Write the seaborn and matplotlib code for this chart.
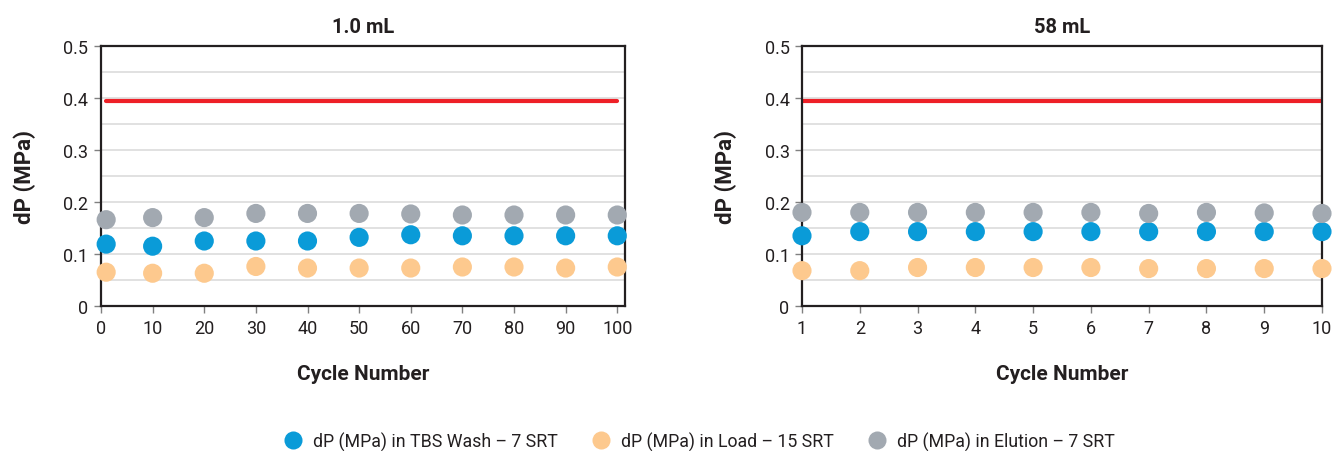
import numpy as np
import pandas as pd
import matplotlib
matplotlib.use("Agg")
import matplotlib.pyplot as plt
import seaborn as sns
from matplotlib.lines import Line2D

sns.set_theme(style="white")
plt.rcParams['font.family'] = ['Roboto', 'DejaVu Sans']

# ---- data ----
titles = ["1.0 mL", "58 mL"]
cycles_a = [1, 10, 20, 30, 40, 50, 60, 70, 80, 90, 100]
wash_a = [0.119, 0.115, 0.125, 0.125, 0.125, 0.132, 0.137, 0.135, 0.135, 0.135, 0.135]
load_a = [0.065, 0.063, 0.063, 0.076, 0.073, 0.073, 0.073, 0.075, 0.075, 0.073, 0.075]
elut_a = [0.166, 0.170, 0.170, 0.178, 0.178, 0.178, 0.177, 0.175, 0.175, 0.175, 0.175]

cycles_b = [1, 2, 3, 4, 5, 6, 7, 8, 9, 10]
wash_b = [0.135, 0.143, 0.143, 0.143, 0.143, 0.143, 0.143, 0.143, 0.143, 0.143]
load_b = [0.068, 0.068, 0.074, 0.074, 0.074, 0.074, 0.072, 0.072, 0.072, 0.072]
elut_b = [0.180, 0.180, 0.180, 0.180, 0.180, 0.180, 0.178, 0.180, 0.179, 0.178]

limit = 0.395
series = ["dP (MPa) in TBS Wash \u2013 7 SRT",
          "dP (MPa) in Load \u2013 15 SRT",
          "dP (MPa) in Elution \u2013 7 SRT"]
colors = ["#0a9bd8", "#fdc98e", "#a2a9b1"]
xticks_a = [0, 10, 20, 30, 40, 50, 60, 70, 80, 90, 100]
xticks_b = [1, 2, 3, 4, 5, 6, 7, 8, 9, 10]
yticks = [0, 0.1, 0.2, 0.3, 0.4, 0.5]
ytick_labels = ["0", "0.1", "0.2", "0.3", "0.4", "0.5"]


def long_df(cycles, wash, load, elut):
    frames = []
    for name, vals in zip(series, [wash, load, elut]):
        frames.append(pd.DataFrame({"cycle": cycles, "dp": vals, "series": name}))
    return pd.concat(frames, ignore_index=True)


fig = plt.figure(figsize=(13.36, 4.52), dpi=100)
ax1 = fig.add_axes([101 / 1336, 1 - 307 / 452, 524 / 1336, 260 / 452])
ax2 = fig.add_axes([802 / 1336, 1 - 307 / 452, 520 / 1336, 260 / 452])

panels = [
    (ax1, long_df(cycles_a, wash_a, load_a, elut_a), cycles_a, xticks_a, (0, 101.5), titles[0]),
    (ax2, long_df(cycles_b, wash_b, load_b, elut_b), cycles_b, xticks_b, (1, 10), titles[1]),
]

for ax, df, cyc, xt, xl, title in panels:
    for y in np.arange(0.05, 0.5, 0.05):
        ax.axhline(y, color="#dcdcdc", lw=1.2, zorder=0)
    ax.plot([cyc[0], cyc[-1]], [limit, limit], color="#ee2027", lw=3, zorder=2)
    sns.scatterplot(data=df, x="cycle", y="dp", hue="series", palette=colors,
                    hue_order=series, s=190, edgecolor="none", legend=False,
                    ax=ax, zorder=3, clip_on=False)
    ax.set_xlim(*xl)
    ax.set_ylim(0, 0.5)
    ax.set_xticks(xt)
    ax.set_xticklabels([str(v) for v in xt])
    ax.set_yticks(yticks)
    ax.set_yticklabels(ytick_labels)
    ax.tick_params(axis="both", which="both", direction="out", length=5, width=1,
                   color="#808080", labelsize=13, labelcolor="#231f20", pad=4,
                   left=True, bottom=True)
    for sp in ax.spines.values():
        sp.set_visible(True)
        sp.set_color("#231f20")
        sp.set_linewidth(1.6)
    ax.set_title(title, fontsize=14.5, fontweight="bold", color="#231f20", pad=10)
    ax.set_xlabel("Cycle Number", fontsize=15, fontweight="bold", color="#231f20", labelpad=20)
    ax.set_ylabel("dP (MPa)", fontsize=16, fontweight="bold", color="#231f20", labelpad=20)

handles = [Line2D([0], [0], marker="o", linestyle="none", markersize=13,
                  markerfacecolor=c, markeredgecolor="none") for c in colors]
fig.legend(handles, series, loc="center", bbox_to_anchor=(695 / 1336, 1 - 442 / 452),
           ncol=3, frameon=False, fontsize=12.8, handletextpad=0.15, columnspacing=1.4,
           labelcolor="#231f20")

fig.savefig("out.png", dpi=100)
